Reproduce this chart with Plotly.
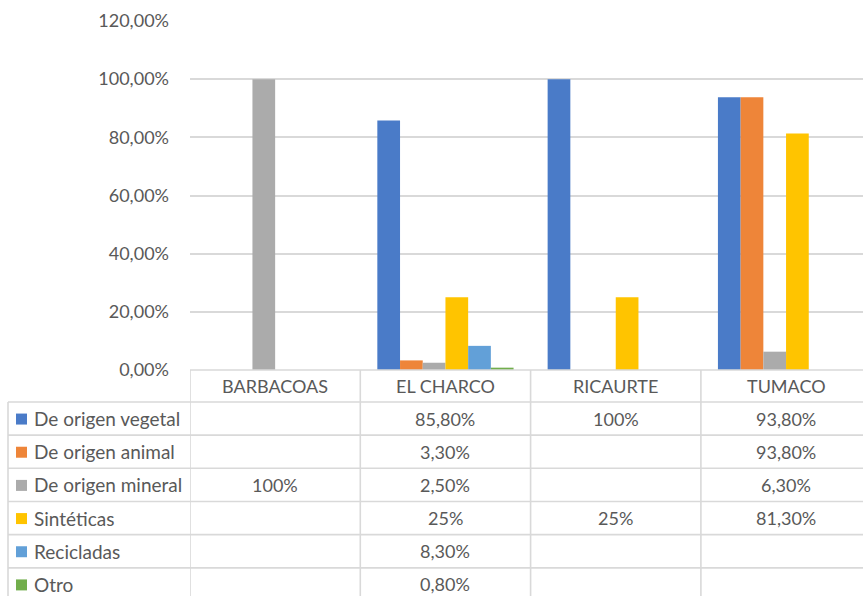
import plotly.graph_objects as go

categories = ["BARBACOAS", "EL CHARCO", "RICAURTE", "TUMACO"]
series_names = ["De origen vegetal", "De origen animal", "De origen mineral",
                "Sintéticas", "Recicladas", "Otro"]
vegetal = [None, 0.858, 1.00, 0.938]
animal = [None, 0.033, None, 0.938]
mineral = [1.00, 0.025, None, 0.063]
sinteticas = [None, 0.25, 0.25, 0.813]
recicladas = [None, 0.083, None, None]
otro = [None, 0.008, None, None]
series_values = [vegetal, animal, mineral, sinteticas, recicladas, otro]
colors = ["#4A7BC8", "#EE8539", "#ABABAB", "#FFC400", "#62A0D8", "#72AE4C"]
y_ticks = [0, 0.2, 0.4, 0.6, 0.8, 1.0, 1.2]

W, H = 863, 596
L, R_EDGE = 190, 863
TOP, BOT = 20.7, 370
CAT_W = 170.3
ROW_H = 33.2
FONT = "Lato"
GRAY = "#595959"
LINE = "#D9D9D9"
FS = 18
FS_LBL = 19


def fmt(v):
    p = round(v * 100, 4)
    if abs(p - round(p)) < 1e-9:
        return f"{int(round(p))}%"
    return f"{p:.2f}".replace(".", ",") + "%"


def px_x(x):
    return (x - L) / (R_EDGE - L)


def px_y(y):
    return (BOT - y) / (BOT - TOP)


fig = go.Figure()
for name, vals, col in zip(series_names, series_values, colors):
    fig.add_trace(go.Bar(
        x=categories, y=[v if v is not None else 0 for v in vals],
        name=name, marker=dict(color=col, line=dict(width=0)),
        showlegend=False, hoverinfo="skip"))

shapes = []
annotations = []
header_top = BOT
header_bot = BOT + 32
n_rows = len(series_names)
row_tops = [header_bot + i * ROW_H for i in range(n_rows + 1)]
table_bottom = row_tops[-1] + ROW_H

# horizontal lines
for yy in row_tops:
    shapes.append(dict(type="line", xref="paper", yref="paper",
                       x0=px_x(8), x1=px_x(R_EDGE + 10), y0=px_y(yy), y1=px_y(yy),
                       line=dict(color=LINE, width=1.6), layer="above"))
shapes.append(dict(type="line", xref="paper", yref="paper",
                   x0=0, x1=px_x(R_EDGE + 10), y0=px_y(header_top), y1=px_y(header_top),
                   line=dict(color=LINE, width=1.6), layer="above"))
# vertical lines
shapes.append(dict(type="line", xref="paper", yref="paper",
                   x0=px_x(8), x1=px_x(8), y0=px_y(header_bot), y1=px_y(table_bottom),
                   line=dict(color=LINE, width=1.6)))
for i in range(len(categories)):
    xb = -0.5 + i
    shapes.append(dict(type="line", xref="x", yref="paper",
                       x0=xb, x1=xb, y0=px_y(header_top), y1=px_y(table_bottom),
                       line=dict(color=LINE, width=1.6)))

# header labels
for c in categories:
    annotations.append(dict(x=c, xref="x", y=px_y((header_top + header_bot) / 2),
                            yref="paper", text=c, showarrow=False,
                            font=dict(family=FONT, size=FS, color=GRAY),
                            xanchor="center", yanchor="middle"))

# rows
for r, (name, vals, col) in enumerate(zip(series_names, series_values, colors)):
    yc = row_tops[r] + ROW_H / 2
    shapes.append(dict(type="rect", xref="paper", yref="paper",
                       x0=px_x(16), x1=px_x(27), y0=px_y(yc - 5), y1=px_y(yc + 6),
                       fillcolor=col, line=dict(width=0)))
    annotations.append(dict(x=px_x(32), xref="paper", y=px_y(yc), yref="paper",
                            text=name, showarrow=False, xanchor="left", yanchor="middle",
                            font=dict(family=FONT, size=FS_LBL, color=GRAY)))
    for c, v in zip(categories, vals):
        if v is None:
            continue
        annotations.append(dict(x=c, xref="x", y=px_y(yc), yref="paper",
                                text=fmt(v), showarrow=False,
                                xanchor="center", yanchor="middle",
                                font=dict(family=FONT, size=FS, color=GRAY)))

fig.update_layout(
    width=W, height=H,
    margin=dict(l=L, r=W - R_EDGE, t=TOP, b=H - BOT, pad=0),
    paper_bgcolor="white", plot_bgcolor="white",
    barmode="group", bargap=0.2, bargroupgap=0,
    separators=",.",
    shapes=shapes, annotations=annotations,
    xaxis=dict(type="category", range=[-0.5, -0.5 + (R_EDGE - L) / CAT_W],
               showticklabels=False, showgrid=False, zeroline=False,
               showline=False, ticks=""),
    yaxis=dict(range=[0, 1.2], tickvals=y_ticks, tickformat=".2%",
               showgrid=True, gridcolor=LINE, gridwidth=1.6,
               zeroline=False, showline=False, ticks="",
               ticklabelstandoff=20,
               tickfont=dict(family=FONT, size=FS, color=GRAY)),
)

fig.write_html("out.html",
               config={"displayModeBar": False},
               post_script="document.body.style.margin='0px';document.body.style.overflow='hidden';")
